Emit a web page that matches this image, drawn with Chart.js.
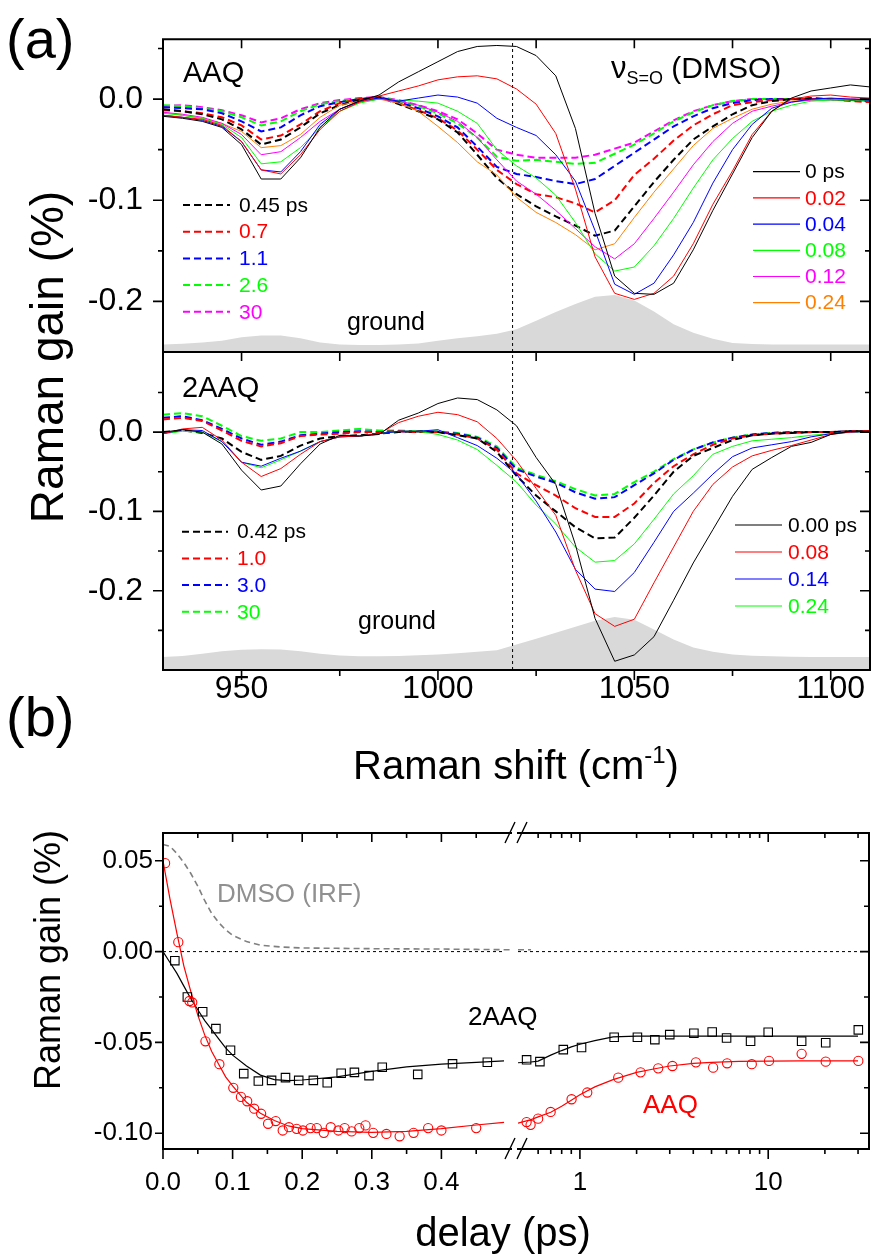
<!DOCTYPE html>
<html lang="en">
<head>
  <meta charset="UTF-8">
  <title>Raman gain: AAQ and 2AAQ</title>
  <script src="https://cdn.jsdelivr.net/npm/chart.js"></script>
  <style>
    body { margin: 0; background: #fff; }
    #wrap { position: relative; width: 871px; height: 1255px; }
    #wrap canvas { position: absolute; left: 0; top: 0; }
  </style>
</head>
<body>
<div id="wrap">
  <canvas id="aaq" width="871" height="1255"></canvas>
  <canvas id="aaq2" width="871" height="1255"></canvas>
  <canvas id="kinLin" width="871" height="1255"></canvas>
  <canvas id="kinLog" width="871" height="1255"></canvas>
</div>
<script>
const FONT = 'Arial, "Liberation Sans", sans-serif';

// Raman shift grid (cm-1)
const shift = [930,935,940,945,950,955,960,965,970,975,980,985,990,995,1000,1005,1010,1015,1020,1025,1030,1035,1040,1045,1050,1055,1060,1065,1070,1075,1080,1085,1090,1095,1100,1105,1110];

// AAQ spectra, Raman gain (%)
const aaq_0ps  = [-0.017,-0.019,-0.022,-0.028,-0.045,-0.079,-0.079,-0.058,-0.028,-0.010,-0.002,0.004,0.017,0.027,0.037,0.047,0.052,0.053,0.052,0.043,0.023,-0.029,-0.113,-0.175,-0.192,-0.193,-0.182,-0.149,-0.110,-0.074,-0.038,-0.012,0.001,0.008,0.011,0.014,0.012];
const aaq_002 = [-0.016,-0.018,-0.020,-0.026,-0.042,-0.070,-0.074,-0.055,-0.030,-0.012,-0.003,0.003,0.008,0.013,0.019,0.022,0.023,0.020,0.010,-0.005,-0.034,-0.089,-0.156,-0.192,-0.198,-0.192,-0.175,-0.143,-0.104,-0.071,-0.035,-0.012,0.000,0.003,0.004,0.002,0.001];
const aaq_004 = [-0.016,-0.018,-0.021,-0.027,-0.042,-0.070,-0.072,-0.052,-0.025,-0.010,-0.002,0.001,-0.002,0.001,0.004,0.002,-0.004,-0.019,-0.028,-0.036,-0.055,-0.081,-0.130,-0.183,-0.193,-0.182,-0.154,-0.122,-0.083,-0.050,-0.025,-0.009,-0.003,0.000,0.001,0.000,-0.001];
const aaq_008 = [-0.014,-0.016,-0.019,-0.025,-0.038,-0.064,-0.062,-0.048,-0.028,-0.012,-0.004,0.000,-0.001,-0.002,-0.004,-0.012,-0.024,-0.050,-0.066,-0.078,-0.095,-0.122,-0.153,-0.170,-0.166,-0.145,-0.118,-0.088,-0.060,-0.039,-0.022,-0.012,-0.006,-0.002,-0.001,-0.001,-0.001];
const aaq_012 = [-0.013,-0.015,-0.018,-0.024,-0.035,-0.055,-0.052,-0.038,-0.022,-0.010,-0.003,0.000,-0.002,-0.006,-0.013,-0.022,-0.038,-0.060,-0.081,-0.094,-0.110,-0.128,-0.146,-0.158,-0.143,-0.118,-0.092,-0.065,-0.042,-0.024,-0.012,-0.007,-0.003,-0.001,-0.001,0.000,0.000];
const aaq_024 = [-0.013,-0.016,-0.019,-0.024,-0.032,-0.048,-0.046,-0.035,-0.018,-0.006,-0.002,0.000,-0.004,-0.012,-0.027,-0.043,-0.062,-0.075,-0.097,-0.112,-0.122,-0.134,-0.149,-0.143,-0.117,-0.092,-0.069,-0.046,-0.029,-0.019,-0.010,-0.005,-0.002,-0.001,0.000,0.000,0.000];
const aaq_045 = [-0.010,-0.012,-0.015,-0.020,-0.030,-0.045,-0.040,-0.028,-0.014,-0.006,-0.001,0.002,-0.005,-0.012,-0.020,-0.033,-0.055,-0.078,-0.094,-0.106,-0.116,-0.125,-0.135,-0.130,-0.106,-0.082,-0.060,-0.040,-0.027,-0.015,-0.006,-0.002,0.000,0.001,0.000,-0.001,0.000];
const aaq_07  = [-0.011,-0.012,-0.014,-0.018,-0.026,-0.040,-0.036,-0.025,-0.012,-0.004,0.000,0.002,-0.004,-0.011,-0.019,-0.031,-0.050,-0.070,-0.084,-0.094,-0.097,-0.103,-0.112,-0.100,-0.075,-0.059,-0.041,-0.026,-0.015,-0.006,-0.003,-0.001,0.000,0.000,0.000,-0.002,-0.003];
const aaq_11  = [-0.008,-0.009,-0.010,-0.014,-0.022,-0.032,-0.028,-0.016,-0.007,-0.003,0.000,0.002,-0.003,-0.009,-0.017,-0.028,-0.047,-0.067,-0.074,-0.077,-0.081,-0.084,-0.079,-0.066,-0.053,-0.040,-0.027,-0.017,-0.009,-0.004,-0.001,0.000,0.000,0.000,0.000,-0.001,-0.002];
const aaq_26  = [-0.006,-0.007,-0.009,-0.012,-0.018,-0.026,-0.022,-0.012,-0.005,-0.002,0.000,0.002,-0.002,-0.007,-0.014,-0.024,-0.038,-0.057,-0.061,-0.060,-0.062,-0.064,-0.063,-0.054,-0.045,-0.034,-0.022,-0.013,-0.006,-0.002,0.000,0.000,0.000,0.000,0.000,-0.001,-0.002];
const aaq_30  = [-0.007,-0.006,-0.008,-0.011,-0.016,-0.023,-0.019,-0.010,-0.004,-0.001,0.001,0.002,-0.001,-0.006,-0.012,-0.020,-0.034,-0.050,-0.055,-0.058,-0.058,-0.058,-0.055,-0.049,-0.043,-0.032,-0.021,-0.012,-0.006,-0.002,0.000,0.000,0.000,0.000,0.000,-0.001,-0.001];
const aaqGround = [-0.2425,-0.2418,-0.2405,-0.239,-0.2355,-0.2337,-0.2338,-0.2365,-0.2405,-0.2425,-0.2432,-0.2432,-0.2425,-0.2415,-0.239,-0.2365,-0.2345,-0.232,-0.2275,-0.219,-0.2105,-0.2025,-0.1955,-0.1937,-0.199,-0.21,-0.2225,-0.231,-0.237,-0.241,-0.2422,-0.2425,-0.2425,-0.2425,-0.2425,-0.2425,-0.2425];

// 2AAQ spectra, Raman gain (%)
const aaq2_000 = [0.000,0.003,0.000,-0.015,-0.048,-0.073,-0.068,-0.040,-0.015,-0.004,-0.005,-0.003,0.015,0.024,0.036,0.043,0.041,0.028,0.008,-0.032,-0.066,-0.142,-0.235,-0.289,-0.281,-0.258,-0.212,-0.165,-0.123,-0.081,-0.047,-0.032,-0.018,-0.013,-0.003,0.001,0.001];
const aaq2_008 = [-0.002,0.004,0.006,-0.010,-0.038,-0.056,-0.046,-0.028,-0.012,-0.006,-0.005,-0.002,0.012,0.020,0.025,0.022,0.013,-0.008,-0.036,-0.071,-0.105,-0.174,-0.229,-0.245,-0.236,-0.190,-0.145,-0.100,-0.066,-0.044,-0.030,-0.023,-0.017,-0.010,-0.003,0.000,0.002];
const aaq2_014 = [-0.002,0.003,0.002,-0.012,-0.038,-0.043,-0.033,-0.024,-0.012,-0.006,-0.005,-0.002,0.001,0.001,0.003,-0.007,-0.017,-0.033,-0.053,-0.087,-0.126,-0.173,-0.198,-0.201,-0.177,-0.139,-0.100,-0.077,-0.053,-0.031,-0.020,-0.016,-0.012,-0.006,-0.002,0.000,0.001];
const aaq2_024 = [-0.002,0.001,0.000,-0.012,-0.038,-0.045,-0.035,-0.024,-0.012,-0.006,-0.005,-0.002,0.001,0.001,-0.003,-0.010,-0.022,-0.042,-0.063,-0.092,-0.116,-0.145,-0.164,-0.162,-0.141,-0.110,-0.078,-0.055,-0.028,-0.018,-0.011,-0.009,-0.007,-0.004,-0.002,0.000,0.001];
const aaq2_042 = [0.000,0.002,-0.001,-0.008,-0.025,-0.035,-0.030,-0.017,-0.008,-0.005,-0.004,-0.002,0.000,0.001,0.000,-0.004,-0.008,-0.025,-0.055,-0.080,-0.100,-0.120,-0.134,-0.133,-0.108,-0.080,-0.050,-0.030,-0.020,-0.010,-0.004,-0.002,-0.001,0.000,0.000,0.001,0.001];
const aaq2_10  = [0.016,0.018,0.014,0.002,-0.011,-0.018,-0.014,-0.005,-0.003,-0.002,0.000,0.000,0.001,0.000,0.000,-0.003,-0.008,-0.022,-0.052,-0.067,-0.080,-0.096,-0.107,-0.107,-0.090,-0.064,-0.043,-0.028,-0.016,-0.008,-0.004,-0.002,-0.001,0.000,0.000,0.001,0.001];
const aaq2_30  = [0.018,0.020,0.015,0.004,-0.008,-0.016,-0.012,-0.004,-0.002,0.000,0.001,0.000,0.001,0.000,0.000,-0.002,-0.007,-0.020,-0.047,-0.056,-0.064,-0.076,-0.084,-0.082,-0.067,-0.052,-0.035,-0.022,-0.013,-0.007,-0.003,-0.001,0.000,0.000,0.000,0.001,0.001];
const aaq2_300 = [0.022,0.024,0.020,0.008,-0.005,-0.011,-0.008,0.000,0.000,0.002,0.004,0.002,0.002,0.001,0.001,-0.001,-0.006,-0.018,-0.045,-0.054,-0.062,-0.072,-0.080,-0.078,-0.063,-0.050,-0.034,-0.022,-0.013,-0.007,-0.003,-0.001,0.000,0.000,0.000,0.001,0.001];
const aaq2Ground = [-0.2835,-0.2825,-0.2795,-0.2765,-0.2745,-0.2738,-0.274,-0.2765,-0.2795,-0.2818,-0.2827,-0.2828,-0.2825,-0.2815,-0.2805,-0.279,-0.277,-0.2752,-0.268,-0.2605,-0.253,-0.2455,-0.238,-0.2332,-0.2365,-0.249,-0.2615,-0.2715,-0.277,-0.2803,-0.282,-0.2827,-0.2832,-0.2835,-0.2835,-0.2835,-0.2835];

const dmsoShift = 1019;

// (b) kinetics: delay (ps) and Raman gain (%)
const fitTLin = [0,0.01,0.02,0.03,0.04,0.05,0.06,0.07,0.08,0.09,0.10,0.12,0.14,0.16,0.18,0.20,0.25,0.30,0.35,0.40,0.45,0.49];
const aaqFitLin = [0.050,0.029,0.010,-0.008,-0.022,-0.035,-0.046,-0.055,-0.062,-0.069,-0.074,-0.083,-0.089,-0.093,-0.096,-0.0975,-0.099,-0.0995,-0.099,-0.0975,-0.0955,-0.094];
const aaq2FitLin = [0.000,-0.006,-0.012,-0.019,-0.026,-0.032,-0.038,-0.043,-0.048,-0.053,-0.057,-0.063,-0.068,-0.0705,-0.071,-0.0707,-0.069,-0.066,-0.0635,-0.062,-0.061,-0.0602];
const fitTLog = [0.469,0.55,0.6,0.7,0.8,0.9,1.0,1.2,1.5,2,2.5,3,4,5,7,10,15,20,30];
const aaqFitLog = [-0.0945,-0.0925,-0.091,-0.0885,-0.0852,-0.0818,-0.0788,-0.0745,-0.0705,-0.0665,-0.0645,-0.063,-0.0615,-0.061,-0.0605,-0.0603,-0.0602,-0.0602,-0.0602];
const aaq2FitLog = [-0.0612,-0.0608,-0.0603,-0.057,-0.0545,-0.0525,-0.051,-0.049,-0.047,-0.0465,-0.0465,-0.0465,-0.0465,-0.0465,-0.0465,-0.0465,-0.0465,-0.0465,-0.0465];

const irfT = [0,0.01,0.02,0.03,0.04,0.05,0.06,0.07,0.08,0.09,0.10,0.12,0.14,0.17,0.20,0.25,0.30,0.35,0.40,0.45,0.50];
const irfV = [0.059,0.058,0.054,0.049,0.043,0.036,0.028,0.021,0.016,0.012,0.009,0.0055,0.0035,0.0025,0.002,0.0018,0.0016,0.0015,0.0014,0.0012,0.001];
const irfTLog = [0.469,0.55];
const irfVLog = [0.001,0.001];

const aaqTLin = [0.003,0.022,0.038,0.042,0.061,0.081,0.101,0.112,0.121,0.131,0.141,0.151,0.162,0.172,0.181,0.192,0.201,0.212,0.221,0.231,0.241,0.252,0.261,0.271,0.282,0.291,0.302,0.321,0.340,0.360,0.381,0.400,0.450];
const aaqVLin = [0.0487,0.0052,-0.0272,-0.028,-0.0494,-0.062,-0.075,-0.080,-0.0824,-0.0865,-0.0893,-0.0948,-0.0933,-0.0985,-0.0967,-0.0976,-0.0985,-0.0972,-0.0972,-0.0998,-0.0967,-0.0985,-0.0972,-0.099,-0.0972,-0.0957,-0.0998,-0.1004,-0.1017,-0.0998,-0.0972,-0.0985,-0.0972];
const aaqTLog = [0.521,0.547,0.60,0.699,0.903,1.094,1.598,2.10,2.605,3.10,4.13,5.10,6.05,8.18,10.1,15.05,20.2,30.1];
const aaqVLog = [-0.0939,-0.0954,-0.092,-0.0883,-0.0813,-0.0776,-0.0694,-0.0665,-0.0643,-0.063,-0.061,-0.0639,-0.0615,-0.062,-0.0602,-0.0563,-0.0606,-0.0602];
const aaq2TLin = [0.017,0.035,0.057,0.076,0.097,0.116,0.137,0.156,0.176,0.195,0.216,0.236,0.256,0.275,0.296,0.315,0.366,0.416,0.466];
const aaq2VLin = [-0.005,-0.025,-0.0331,-0.0424,-0.0543,-0.0672,-0.0713,-0.0709,-0.0694,-0.0709,-0.0709,-0.0722,-0.067,-0.0665,-0.0683,-0.0637,-0.0676,-0.0618,-0.0609];
const aaq2TLog = [0.521,0.613,0.816,1.02,1.52,2.02,2.50,3.00,4.03,5.04,6.01,8.06,10.0,15.05,20.2,30.1];
const aaq2VLog = [-0.0596,-0.0606,-0.054,-0.0528,-0.0472,-0.0472,-0.0485,-0.0457,-0.045,-0.0443,-0.0476,-0.0494,-0.0444,-0.0494,-0.0502,-0.0431];

// ticks
const gainTicks = [0, -0.1, -0.2];
const gainMinorA = [0.05, -0.05, -0.15];
const gainMinorB = [0.05, -0.05, -0.15, -0.25];
const shiftTicks = [950, 1000, 1050, 1100];
const shiftMinor = [975, 1025, 1075];
const kinTicks = [0.05, 0, -0.05, -0.10];
const kinMinor = [0.025, -0.025, -0.075];
const delayTicksLin = [0, 0.1, 0.2, 0.3, 0.4];
const delayMinorLin = [0.05, 0.15, 0.25, 0.35, 0.45];
const delayTicksLog = [1, 10];
const delayMinorLog = [0.6, 0.7, 0.8, 0.9, 2, 3, 4, 5, 6, 7, 8, 9, 20, 30];

const RED = '#ff0000', BLUE = '#0000ff', GREEN = '#00ff00', MAG = '#ff00ff', ORANGE = '#ff8000', GREY = '#d9d9d9';

const aaqSolid = [
  {label: '0 ps', data: aaq_0ps, color: '#000'},
  {label: '0.02', data: aaq_002, color: RED},
  {label: '0.04', data: aaq_004, color: BLUE},
  {label: '0.08', data: aaq_008, color: GREEN},
  {label: '0.12', data: aaq_012, color: MAG},
  {label: '0.24', data: aaq_024, color: ORANGE}
];
const aaqDashed = [
  {label: '0.45 ps', data: aaq_045, color: '#000'},
  {label: '0.7', data: aaq_07, color: RED},
  {label: '1.1', data: aaq_11, color: BLUE},
  {label: '2.6', data: aaq_26, color: GREEN},
  {label: '30', data: aaq_30, color: MAG}
];
const aaq2Solid = [
  {label: '0.00 ps', data: aaq2_000, color: '#000'},
  {label: '0.08', data: aaq2_008, color: RED},
  {label: '0.14', data: aaq2_014, color: BLUE},
  {label: '0.24', data: aaq2_024, color: GREEN}
];
const aaq2Dashed = [
  {label: '0.42 ps', data: aaq2_042, color: '#000'},
  {label: '1.0', data: aaq2_10, color: RED},
  {label: '3.0', data: aaq2_30, color: BLUE},
  {label: '30', data: aaq2_300, color: GREEN}
];

function xy(xs, ys) { return xs.map((x, i) => ({x: x, y: ys[i]})); }

function lineSet(xs, ys, color, dashed, width) {
  return {
    data: xy(xs, ys), borderColor: color, borderWidth: width || (dashed ? 2 : 1),
    borderDash: dashed ? [7, 4] : [], pointRadius: 0, fill: false, tension: 0
  };
}

// box, ticks and decorations drawn from the chart's own scales
function framePlugin(spec) {
  return {
    id: 'frame',
    afterDatasetsDraw(chart) {
      const {ctx, chartArea: a, scales} = chart;
      ctx.save();
      ctx.strokeStyle = '#000';
      ctx.lineWidth = 2;
      ctx.beginPath();
      if (spec.sides.includes('t')) { ctx.moveTo(a.left - 1, a.top); ctx.lineTo(a.right + 1, a.top); }
      if (spec.sides.includes('b')) { ctx.moveTo(a.left - 1, a.bottom); ctx.lineTo(a.right + 1, a.bottom); }
      if (spec.sides.includes('l')) { ctx.moveTo(a.left, a.top); ctx.lineTo(a.left, a.bottom); }
      if (spec.sides.includes('r')) { ctx.moveTo(a.right, a.top); ctx.lineTo(a.right, a.bottom); }
      ctx.stroke();
      ctx.lineWidth = 1.6;
      spec.ticks.forEach(t => {
        const s = scales[t.axis];
        const d = t.out ? -1 : 1;
        ctx.beginPath();
        t.values.forEach(v => {
          const p = s.getPixelForValue(v);
          if (t.side === 'l') { ctx.moveTo(a.left, p); ctx.lineTo(a.left + d * t.len, p); }
          if (t.side === 'r') { ctx.moveTo(a.right, p); ctx.lineTo(a.right - d * t.len, p); }
          if (t.side === 't') { ctx.moveTo(p, a.top); ctx.lineTo(p, a.top + d * t.len); }
          if (t.side === 'b') { ctx.moveTo(p, a.bottom); ctx.lineTo(p, a.bottom - d * t.len); }
        });
        ctx.stroke();
      });
      if (spec.breakMarks) {
        ctx.lineWidth = 1.4;
        ctx.beginPath();
        [a.top, a.bottom].forEach(y => {
          ctx.moveTo(a.left - 13, y + 10); ctx.lineTo(a.left - 3, y - 11);
          ctx.moveTo(a.left - 1, y + 10); ctx.lineTo(a.left + 9, y - 11);
        });
        ctx.stroke();
      }
      ctx.restore();
    }
  };
}

// free text and hand-placed legends
function notesPlugin(texts, legends) {
  return {
    id: 'notes',
    afterDraw(chart) {
      const ctx = chart.ctx;
      ctx.save();
      (legends || []).forEach(g => {
        g.series.forEach((s, i) => {
          const y = g.y0 + i * g.dy;
          ctx.beginPath();
          ctx.setLineDash(g.dashed ? [7, 4] : []);
          ctx.lineWidth = g.dashed ? 2 : 1.2;
          ctx.strokeStyle = s.color;
          ctx.moveTo(g.x1, y); ctx.lineTo(g.x2, y);
          ctx.stroke();
          ctx.setLineDash([]);
          ctx.font = g.size + 'px ' + FONT;
          ctx.fillStyle = s.color;
          ctx.textAlign = 'left';
          ctx.textBaseline = 'middle';
          ctx.fillText(s.label, g.tx, y + 1);
        });
      });
      (texts || []).forEach(t => {
        const parts = t.parts || [{text: t.text, size: t.size, dy: 0}];
        ctx.save();
        ctx.translate(t.x, t.y);
        if (t.rot) ctx.rotate(t.rot);
        ctx.fillStyle = t.color || '#000';
        ctx.textBaseline = t.base || 'alphabetic';
        ctx.textAlign = 'left';
        let w = 0;
        parts.forEach(p => { ctx.font = p.size + 'px ' + FONT; w += ctx.measureText(p.text).width; });
        let x = t.align === 'center' ? -w / 2 : 0;
        parts.forEach(p => {
          ctx.font = p.size + 'px ' + FONT;
          ctx.fillText(p.text, x, p.dy || 0);
          x += ctx.measureText(p.text).width;
        });
        ctx.restore();
      });
      ctx.restore();
    }
  };
}

function axisOpts(o) {
  return Object.assign({
    bounds: 'data',
    grid: {display: false, drawTicks: false},
    border: {display: false}
  }, o);
}

function fixedTicks(vals) {
  return s => { s.ticks = vals.map(v => ({value: v})); };
}

function baseOptions(padding, scales) {
  return {
    responsive: false, maintainAspectRatio: false, animation: false,
    devicePixelRatio: 1, events: [],
    layout: {padding: padding, autoPadding: false},
    plugins: {legend: {display: false}, tooltip: {enabled: false}},
    elements: {point: {radius: 0}},
    scales: scales
  };
}

function spectraSets(solid, dashed, ground, yMin, yMax) {
  const sets = [];
  solid.forEach(s => sets.push(lineSet(shift, s.data, s.color, false)));
  dashed.forEach(s => sets.push(lineSet(shift, s.data, s.color, true)));
  sets.push(Object.assign(lineSet([dmsoShift, dmsoShift], [yMin, yMax], '#000', false, 1), {borderDash: [3, 3]}));
  sets.push({data: xy(shift, ground), borderWidth: 0, borderColor: GREY, backgroundColor: GREY,
    fill: 'start', pointRadius: 0, tension: 0});
  return sets;
}

// ---- (a) AAQ ----
const aMin = -0.25, aMax = 0.0592;
new Chart(document.getElementById('aaq'), {
  type: 'line',
  data: {datasets: spectraSets(aaqSolid, aaqDashed, aaqGround, aMin, aMax)},
  options: baseOptions({left: 0, top: 37, right: 1, bottom: 1255 - 352}, {
    x: axisOpts({type: 'linear', min: 930, max: 1110, display: false}),
    y: axisOpts({type: 'linear', min: aMin, max: aMax,
      afterFit: s => { s.width = 163; },
      afterBuildTicks: fixedTicks(gainTicks),
      ticks: {font: {size: 32, family: FONT, lineHeight: 1.2}, color: '#000', padding: 20,
        callback: v => v.toFixed(1)}})
  }),
  plugins: [
    framePlugin({sides: 'tlr', ticks: [
      {axis: 'y', side: 'l', out: true, len: 10, values: gainTicks},
      {axis: 'y', side: 'l', out: true, len: 5, values: gainMinorA},
      {axis: 'y', side: 'r', out: false, len: 10, values: gainTicks},
      {axis: 'y', side: 'r', out: false, len: 5, values: gainMinorA},
      {axis: 'x', side: 't', out: false, len: 9, values: shiftTicks.concat(shiftMinor)}
    ]}),
    notesPlugin([
      {text: '(a)', size: 56, x: 6, y: 58},
      {text: 'AAQ', size: 29, x: 183, y: 82},
      {parts: [{text: '\u03bd', size: 31}, {text: 'S=O', size: 18, dy: 6}, {text: ' (DMSO)', size: 30}], x: 611, y: 78},
      {text: 'ground', size: 25, x: 347, y: 330},
      {text: 'Raman gain (%)', size: 46, x: 63, y: 357, rot: -Math.PI / 2, align: 'center'}
    ], [
      {series: aaqDashed, dashed: true, x1: 183, x2: 230, tx: 239, y0: 205, dy: 26.7, size: 21},
      {series: aaqSolid, dashed: false, x1: 753, x2: 800, tx: 805, y0: 171.7, dy: 26.2, size: 21}
    ])
  ]
});

// ---- (a) 2AAQ ----
const bMin = -0.3, bMax = 0.101;
new Chart(document.getElementById('aaq2'), {
  type: 'line',
  data: {datasets: spectraSets(aaq2Solid, aaq2Dashed, aaq2Ground, bMin, bMax)},
  options: baseOptions({left: 0, top: 352, right: 1, bottom: 1255 - 670 - 60}, {
    x: axisOpts({type: 'linear', min: 930, max: 1110,
      afterFit: s => { s.height = 60; },
      afterBuildTicks: fixedTicks(shiftTicks),
      ticks: {font: {size: 32, family: FONT, lineHeight: 1.2}, color: '#000', padding: 0,
        maxRotation: 0, autoSkip: false, callback: v => String(v)}}),
    y: axisOpts({type: 'linear', min: bMin, max: bMax,
      afterFit: s => { s.width = 163; },
      afterBuildTicks: fixedTicks(gainTicks),
      ticks: {font: {size: 32, family: FONT, lineHeight: 1.2}, color: '#000', padding: 20,
        callback: v => v.toFixed(1)}})
  }),
  plugins: [
    framePlugin({sides: 'tlrb', ticks: [
      {axis: 'y', side: 'l', out: true, len: 10, values: gainTicks},
      {axis: 'y', side: 'l', out: true, len: 5, values: gainMinorB},
      {axis: 'y', side: 'r', out: false, len: 10, values: gainTicks},
      {axis: 'y', side: 'r', out: false, len: 5, values: gainMinorB},
      {axis: 'x', side: 't', out: false, len: 9, values: shiftTicks.concat(shiftMinor)},
      {axis: 'x', side: 'b', out: true, len: 10, values: shiftTicks},
      {axis: 'x', side: 'b', out: true, len: 6, values: shiftMinor}
    ]}),
    notesPlugin([
      {text: '2AAQ', size: 29, x: 182, y: 397},
      {text: 'ground', size: 25, x: 358, y: 629},
      {parts: [{text: 'Raman shift (cm', size: 40}, {text: '-1', size: 24, dy: -16}, {text: ')', size: 40}],
        x: 516, y: 779, align: 'center'}
    ], [
      {series: aaq2Dashed, dashed: true, x1: 182, x2: 228, tx: 237, y0: 531.7, dy: 26.7, size: 21},
      {series: aaq2Solid, dashed: false, x1: 735, x2: 782, tx: 788, y0: 525, dy: 27, size: 21}
    ])
  ]
});

// ---- (b) kinetics, linear part 0 - 0.5 ps ----
const kMin = -0.1087, kMax = 0.0653;
function markerSet(xs, ys, color, style, r) {
  return {data: xy(xs, ys), showLine: false, pointStyle: style, pointRadius: r,
    pointBorderColor: color, pointBackgroundColor: 'rgba(0,0,0,0)', pointBorderWidth: 1.1,
    borderColor: color};
}
new Chart(document.getElementById('kinLin'), {
  type: 'line',
  data: {datasets: [
    markerSet(aaqTLin, aaqVLin, RED, 'circle', 4.6),
    markerSet(aaq2TLin, aaq2VLin, '#000', 'rect', 6),
    lineSet(fitTLin, aaqFitLin, RED, false, 1.2),
    lineSet(fitTLin, aaq2FitLin, '#000', false, 1.2),
    Object.assign(lineSet(irfT, irfV, '#808080', false, 1.6), {borderDash: [6, 4]}),
    Object.assign(lineSet([0, 0.51], [0, 0], '#000', false, 1), {borderDash: [3, 3], clip: {left: 0, top: 0, right: -8, bottom: 0}})
  ]},
  options: baseOptions({left: 0, top: 833, right: 871 - 511, bottom: 1255 - 1149 - 60}, {
    x: axisOpts({type: 'linear', min: 0, max: 0.5,
      afterFit: s => { s.height = 60; },
      afterBuildTicks: fixedTicks(delayTicksLin),
      ticks: {font: {size: 26, family: FONT, lineHeight: 1.2}, color: '#000', padding: 18,
        maxRotation: 0, autoSkip: false, callback: v => v.toFixed(1)}}),
    y: axisOpts({type: 'linear', min: kMin, max: kMax,
      afterFit: s => { s.width = 163; },
      afterBuildTicks: fixedTicks(kinTicks),
      ticks: {font: {size: 26, family: FONT, lineHeight: 1.2}, color: '#000', padding: 10,
        callback: v => v.toFixed(2)}})
  }),
  plugins: [
    framePlugin({sides: 'tlb', ticks: [
      {axis: 'y', side: 'l', out: true, len: 8, values: kinTicks},
      {axis: 'y', side: 'l', out: true, len: 4, values: kinMinor},
      {axis: 'x', side: 't', out: false, len: 9, values: delayTicksLin},
      {axis: 'x', side: 't', out: false, len: 5, values: delayMinorLin},
      {axis: 'x', side: 'b', out: true, len: 10, values: delayTicksLin},
      {axis: 'x', side: 'b', out: true, len: 5, values: delayMinorLin}
    ]}),
    notesPlugin([
      {text: '(b)', size: 56, x: 6, y: 736},
      {text: 'DMSO (IRF)', size: 26, x: 217, y: 902, color: '#909090'},
      {text: 'Raman gain (%)', size: 36, x: 60, y: 960, rot: -Math.PI / 2, align: 'center'},
      {text: 'delay (ps)', size: 40, x: 503, y: 1246, align: 'center'}
    ])
  ]
});

// ---- (b) kinetics, log part ----
new Chart(document.getElementById('kinLog'), {
  type: 'line',
  data: {datasets: [
    markerSet(aaqTLog, aaqVLog, RED, 'circle', 4.6),
    markerSet(aaq2TLog, aaq2VLog, '#000', 'rect', 6),
    lineSet(fitTLog, aaqFitLog, RED, false, 1.2),
    lineSet(fitTLog, aaq2FitLog, '#000', false, 1.2),
    Object.assign(lineSet(irfTLog, irfVLog, '#808080', false, 1.6), {borderDash: [6, 4]}),
    Object.assign(lineSet([0.469, 34.3], [0, 0], '#000', false, 1), {borderDash: [3, 3]})
  ]},
  options: baseOptions({left: 518, top: 833, right: 871 - 869, bottom: 1255 - 1149 - 60}, {
    x: axisOpts({type: 'logarithmic', min: 0.469, max: 34.3,
      afterFit: s => { s.height = 60; },
      afterBuildTicks: fixedTicks(delayTicksLog),
      ticks: {font: {size: 26, family: FONT, lineHeight: 1.2}, color: '#000', padding: 18,
        maxRotation: 0, autoSkip: false, callback: v => String(v)}}),
    y: axisOpts({type: 'linear', min: kMin, max: kMax, display: false})
  }),
  plugins: [
    framePlugin({sides: 'trb', breakMarks: true, ticks: [
      {axis: 'y', side: 'r', out: false, len: 9, values: kinTicks},
      {axis: 'y', side: 'r', out: false, len: 5, values: kinMinor},
      {axis: 'x', side: 't', out: false, len: 9, values: delayTicksLog},
      {axis: 'x', side: 't', out: false, len: 5, values: delayMinorLog},
      {axis: 'x', side: 'b', out: true, len: 10, values: delayTicksLog},
      {axis: 'x', side: 'b', out: true, len: 5, values: delayMinorLog}
    ]}),
    notesPlugin([
      {text: '2AAQ', size: 26, x: 468, y: 1025},
      {text: 'AAQ', size: 26, x: 643, y: 1113, color: RED}
    ])
  ]
});
</script>
</body>
</html>
